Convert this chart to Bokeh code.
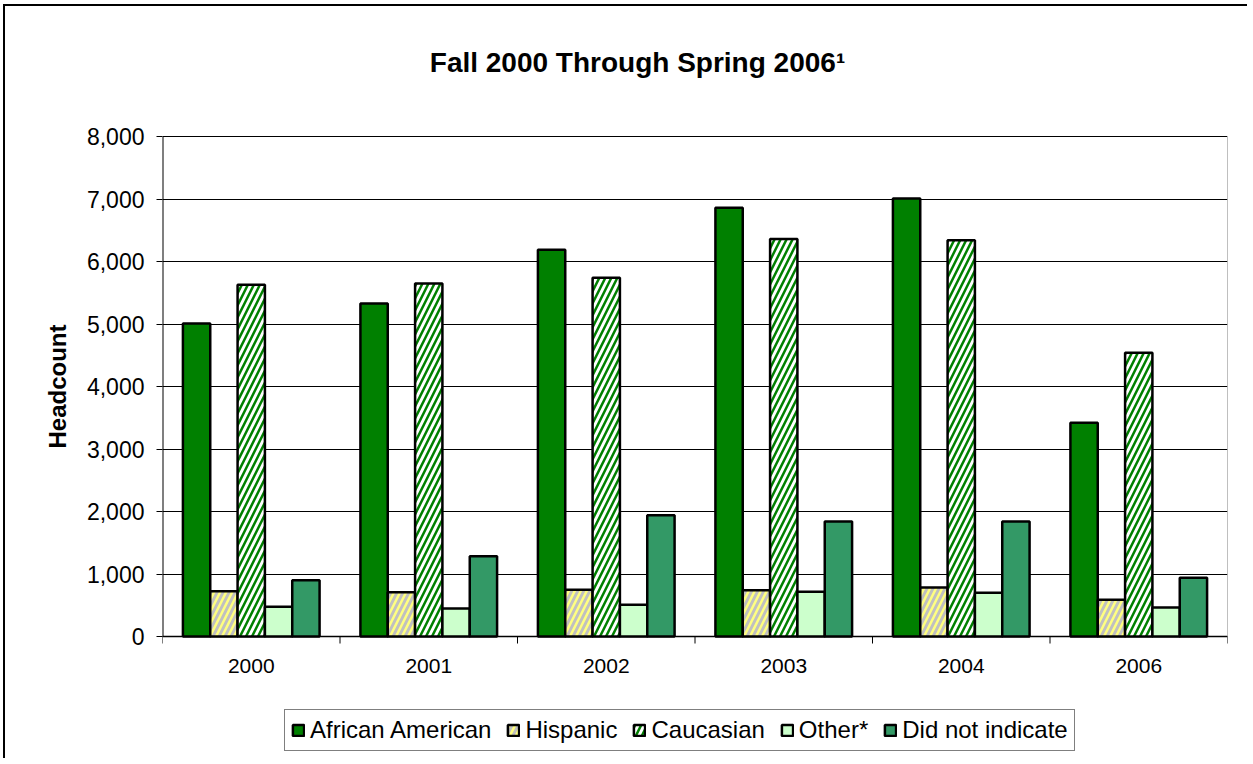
from bokeh.plotting import figure
from bokeh.models import (Range1d, FixedTicker, NumeralTickFormatter, Legend, LegendItem,
                          ColumnDataSource, Label)
from bokeh.core.properties import value
from bokeh.embed import file_html
from bokeh.resources import INLINE

# ---------------- data ----------------
years = ["2000", "2001", "2002", "2003", "2004", "2006"]
african_american = [5010, 5330, 6190, 6860, 7010, 3420]
hispanic = [725, 710, 750, 740, 785, 590]
caucasian = [5630, 5650, 5740, 6360, 6340, 4540]
other = [475, 450, 510, 715, 700, 465]
did_not_indicate = [900, 1285, 1940, 1840, 1840, 940]
series_names = ["African American", "Hispanic", "Caucasian", "Other*", "Did not indicate"]
y_ticks = [0, 1000, 2000, 3000, 4000, 5000, 6000, 7000, 8000]
y_max = 8000
title_text = "Fall 2000 Through Spring 2006\u00b9"
y_label = "Headcount"

FONT = "Liberation Sans"

n = len(years)
centers = [i + 0.5 for i in range(n)]
bounds = list(range(n + 1))

# ---- layout (pixels) ----
PLOT_H = 500                      # height of the 0..8000 plot area
PX_PER_UNIT = PLOT_H / y_max
EXT = 120                          # frame extension above and below the plot area (px)
ext_units = EXT / PX_PER_UNIT
FRAME_W = 1065
cat_px = FRAME_W / n


def dy(px):
    """pixel distance -> data units on the y scale"""
    return px / PX_PER_UNIT


p = figure(x_range=Range1d(0, n), y_range=Range1d(-ext_units, y_max + ext_units),
           frame_width=FRAME_W, frame_height=PLOT_H + 2 * EXT,
           min_border_left=157, min_border_right=20, min_border_top=10, min_border_bottom=2,
           output_backend="svg", toolbar_location=None, x_axis_location=None,
           y_axis_location="left")
p.styles = {"margin-left": "3px", "margin-top": "4px",
            "border-left": "2px solid #000000", "border-top": "2px solid #000000"}
p.background_fill_color = "white"
p.border_fill_color = "white"
p.outline_line_color = None

# y axis (labels + ticks); its line is drawn as a segment over 0..8000 only
yax = p.yaxis[0]
yax.ticker = FixedTicker(ticks=y_ticks)
yax.formatter = NumeralTickFormatter(format="0,0")
yax.major_tick_out = 6
yax.major_tick_in = 0
yax.minor_tick_line_color = None
yax.axis_line_color = None
yax.major_tick_line_color = "black"
yax.major_label_text_font = FONT
yax.major_label_text_font_size = "23px"
yax.major_label_text_color = "black"
yax.major_label_standoff = 12
yax.axis_label = y_label
yax.axis_label_text_font = FONT
yax.axis_label_text_font_size = "24px"
yax.axis_label_text_font_style = "bold"
yax.axis_label_text_color = "black"
yax.axis_label_standoff = 13

p.ygrid.ticker = FixedTicker(ticks=y_ticks)
p.ygrid.grid_line_color = "black"
p.ygrid.grid_line_width = 1
p.xgrid.grid_line_color = None

# plot-area right border (grey) and axis lines
p.segment(x0=[n], y0=[0], x1=[n], y1=[y_max], line_color="#808080", line_width=1)
p.segment(x0=[0], y0=[0], x1=[0], y1=[y_max], line_color="black", line_width=2)
p.segment(x0=[0], y0=[0], x1=[n], y1=[0], line_color="black", line_width=1.5)
# category boundary tick marks
p.segment(x0=bounds, y0=[0] * len(bounds), x1=bounds, y1=[-dy(7)] * len(bounds),
          line_color="black", line_width=1)
# category labels
p.text(x=centers, y=[-dy(29)] * n, text=years, text_align="center", text_baseline="middle",
       text_font=value(FONT), text_font_size=value("21px"), text_color="black")

# bars
bar_w = 0.154
series = [african_american, hispanic, caucasian, other, did_not_indicate]
fills = ["#008000", "#C0C0C0", "#FFFFFF", "#CCFFCC", "#339966"]
hatches = [None, "/", "/", None, None]
hatch_colors = [None, "#FFFF80", "#008000", None, None]
items = []
for i, (vals, name, fc, hp, hc) in enumerate(zip(series, series_names, fills, hatches, hatch_colors)):
    off = (i - 2) * bar_w
    src = ColumnDataSource(dict(x=[c + off for c in centers], top=vals))
    kw = dict(x="x", top="top", width=bar_w, source=src,
              fill_color=fc, line_color="black", line_width=2.5)
    if hp:
        kw.update(hatch_pattern=hp, hatch_color=hc, hatch_scale=12, hatch_weight=2.5)
    r = p.vbar(**kw)
    items.append(LegendItem(label=name, renderers=[r]))

legend = Legend(items=items, orientation="horizontal", location=(122, 5),
                glyph_width=14, glyph_height=14, label_standoff=5, spacing=15,
                padding=6, margin=0, border_line_color="black", border_line_width=1,
                background_fill_color="white", background_fill_alpha=1,
                label_text_font=FONT, label_text_font_size="24px", label_text_color="black")
p.add_layout(legend)

# title, placed above the plot area
title = Label(x=(637 - 162) / cat_px, y=y_max + dy(136 - 62), x_units="data", y_units="data",
              text=title_text, text_align="center", text_baseline="middle",
              text_font=FONT, text_font_size="28px", text_font_style="bold", text_color="black")
p.add_layout(title)

open("out.html", "w").write(file_html(p, INLINE))
